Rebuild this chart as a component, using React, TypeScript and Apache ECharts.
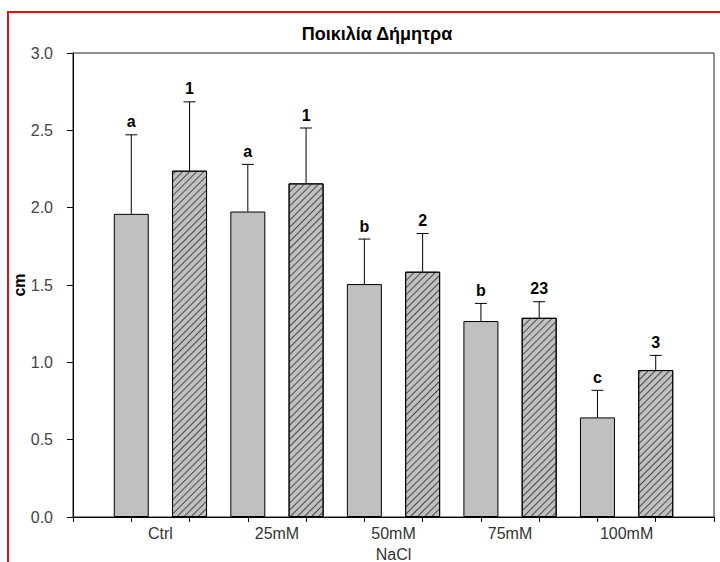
import React, { useEffect, useRef } from "react";
import * as echarts from "echarts";

// Salt treatments (x groups)
const categories = ["Ctrl", "25mM", "50mM", "75mM", "100mM"];
// Plain grey bars: means, upper error and significance letters
const plainMeans = [1.96, 1.975, 1.506, 1.267, 0.644];
const plainErrors = [0.511, 0.305, 0.291, 0.114, 0.175];
const plainLetters = ["a", "a", "b", "b", "c"];
// Hatched bars: means, upper error and significance digits
const hatchMeans = [2.239, 2.157, 1.586, 1.288, 0.95];
const hatchErrors = [0.445, 0.358, 0.247, 0.104, 0.095];
const hatchLetters = ["1", "1", "2", "23", "3"];
// y axis ticks
const yTicks = [0, 0.5, 1.0, 1.5, 2.0, 2.5, 3.0];

const FONT = "'Liberation Sans', Arial, sans-serif";

export default function App() {
  const ref = useRef<HTMLDivElement>(null);

  useEffect(() => {
    if (!ref.current) return;
    const chart = echarts.init(ref.current, null, { renderer: "svg" });

    // each bar sits on its own slot of the x scale: grey at 2i+1, hatched at 2i+2
    const plainData = plainMeans.map((v, i) => [2 * i + 1, v]);
    const hatchData = hatchMeans.map((v, i) => [2 * i + 2, v]);
    const errData: number[][] = [];
    const errLabels: string[] = [];
    categories.forEach((_, i) => {
      errData.push([2 * i + 1, plainMeans[i], plainErrors[i]]);
      errLabels.push(plainLetters[i]);
      errData.push([2 * i + 2, hatchMeans[i], hatchErrors[i]]);
      errLabels.push(hatchLetters[i]);
    });

    const option: any = {
      animation: false,
      backgroundColor: "#ffffff",
      title: {
        text: "Ποικιλία Δήμητρα",
        left: 372,
        top: 20,
        textAlign: "center",
        textStyle: { fontFamily: FONT, fontSize: 18, fontWeight: "bold", color: "#000" },
      },
      graphic: [
        {
          type: "polyline",
          shape: { points: [[8, 562], [8, 12], [720, 12]] },
          style: { stroke: "#e01010", lineWidth: 2, fill: null },
          silent: true,
        },
      ],
      grid: {
        left: 73,
        right: 6,
        top: 53,
        bottom: 45,
        outerBoundsMode: "none",
        containLabel: false,
        show: true,
        borderColor: "#222",
        borderWidth: 1,
        backgroundColor: "transparent",
      },
      xAxis: [
        {
          type: "value",
          min: 0,
          max: 11,
          interval: 1,
          position: "bottom",
          splitLine: { show: false },
          axisLine: { show: true, onZero: false, lineStyle: { color: "#000", width: 1 } },
          axisTick: { show: true, inside: false, length: 5, lineStyle: { color: "#000" } },
          axisLabel: { show: false },
          name: "NaCl",
          nameLocation: "middle",
          nameGap: 29,
          nameMoveOverlap: false,
          nameTextStyle: { fontFamily: FONT, fontSize: 16, color: "#333" },
        },
        {
          type: "value",
          min: 0,
          max: 11,
          interval: 0.5,
          position: "bottom",
          offset: 0,
          splitLine: { show: false },
          axisLine: { show: false },
          axisTick: { show: false },
          axisLabel: {
            margin: 8,
            fontFamily: FONT,
            fontSize: 16,
            color: "#333",
            formatter: (v: number) => {
              const k = (v - 1.5) / 2;
              return Number.isInteger(k) && k >= 0 && k < categories.length ? categories[k] : "";
            },
          },
        },
      ],
      yAxis: {
        type: "value",
        min: 0,
        max: 3,
        interval: 0.5,
        splitLine: { show: false },
        axisLine: { show: true, lineStyle: { color: "#000", width: 1 } },
        axisTick: { show: true, inside: false, length: 6, lineStyle: { color: "#000" } },
        axisLabel: {
          margin: 20,
          fontFamily: FONT,
          fontSize: 16,
          color: "#444",
          formatter: (v: number) => (yTicks.includes(v) ? v.toFixed(1) : ""),
        },
        name: "cm",
        nameLocation: "middle",
        nameGap: 46,
        nameMoveOverlap: false,
        nameTextStyle: { fontFamily: FONT, fontSize: 16, fontWeight: "bold", color: "#000" },
      },
      series: [
        {
          type: "bar",
          xAxisIndex: 0,
          data: plainData,
          barWidth: 35,
          barGap: "-100%",
          itemStyle: { color: "#c0c0c0", borderColor: "#000", borderWidth: 1 },
        },
        {
          type: "bar",
          xAxisIndex: 0,
          data: hatchData,
          barWidth: 35,
          barGap: "-100%",
          itemStyle: {
            color: "#c0c0c0",
            borderColor: "#000",
            borderWidth: 1,
            decal: {
              symbol: "rect",
              symbolSize: 1,
              color: "#4a4a4a",
              dashArrayX: [1, 0],
              dashArrayY: [1, 3.2],
              rotation: -Math.PI / 4,
            },
          },
        },
        {
          type: "custom",
          xAxisIndex: 0,
          data: errData,
          z: 5,
          renderItem: (params: any, api: any) => {
            const x = api.value(0);
            const m = api.value(1);
            const e = api.value(2);
            const base = api.coord([x, m]);
            const top = api.coord([x, m + e]);
            const half = 6;
            const lineStyle = { stroke: "#000", lineWidth: 1 };
            return {
              type: "group",
              children: [
                {
                  type: "line",
                  shape: { x1: base[0], y1: base[1], x2: top[0], y2: top[1] },
                  style: lineStyle,
                },
                {
                  type: "line",
                  shape: { x1: top[0] - half, y1: top[1], x2: top[0] + half, y2: top[1] },
                  style: lineStyle,
                },
                {
                  type: "text",
                  x: top[0],
                  y: top[1] - 5,
                  style: {
                    text: errLabels[params.dataIndex],
                    fontFamily: FONT,
                    fontSize: 16,
                    fontWeight: "bold",
                    fill: "#000",
                    textAlign: "center",
                    textVerticalAlign: "bottom",
                  },
                },
              ],
            };
          },
        },
      ],
    };

    chart.setOption(option);
    return () => chart.dispose();
  }, []);

  return (
    <div
      ref={ref}
      style={{ position: "fixed", left: 0, top: 0, width: 720, height: 562 }}
    />
  );
}
